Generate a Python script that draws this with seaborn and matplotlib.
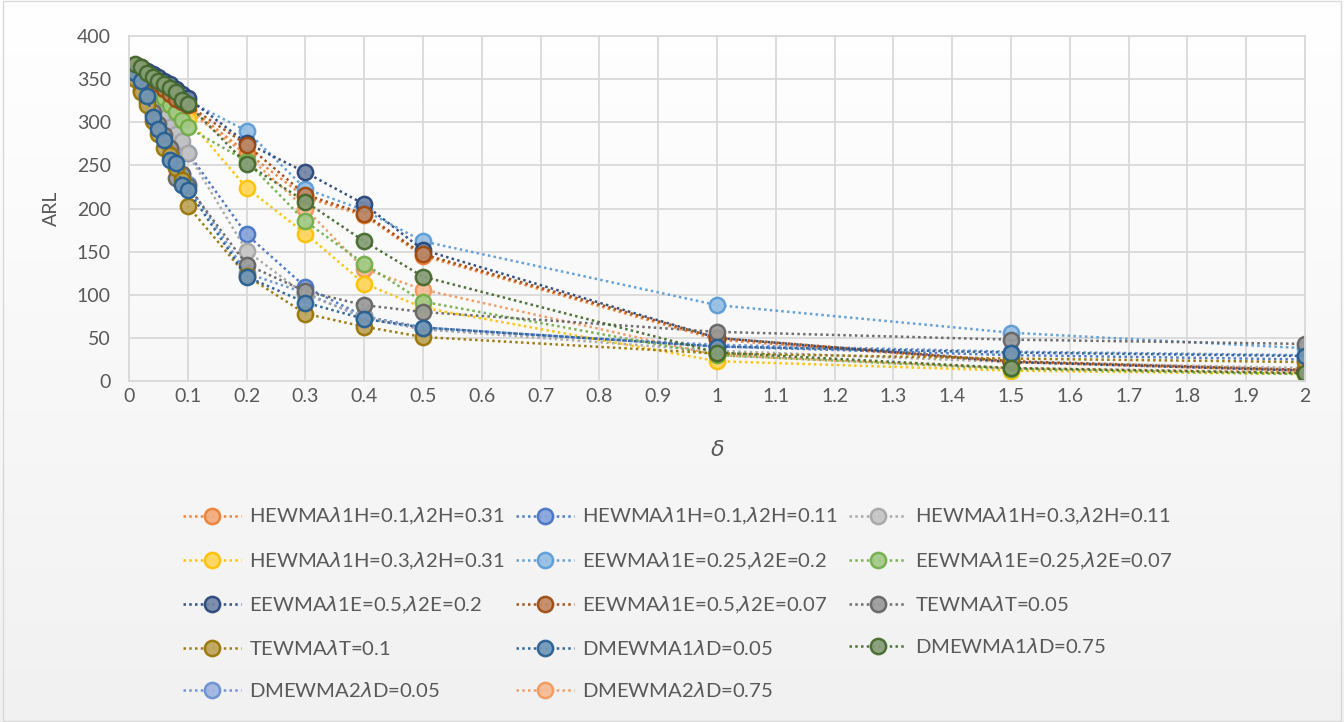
import numpy as np
import pandas as pd
import matplotlib
matplotlib.use("Agg")
import matplotlib.pyplot as plt
import matplotlib.colors as mcolors
import seaborn as sns

# Shift sizes (delta)
delta = [0.01, 0.02, 0.03, 0.04, 0.05, 0.06, 0.07, 0.08, 0.09, 0.1,
         0.2, 0.3, 0.4, 0.5, 1.0, 1.5, 2.0]

# ARL values per chart / smoothing configuration
hewma_01_031 = [366, 362, 357, 352, 346, 341, 336, 331, 325, 318, 265, 213, 192, 145, 48, 22, 12]
hewma_01_011 = [358, 350, 338, 325, 313, 300, 290, 280, 272, 265, 170, 109, 75, 62, 40, 30, 25]
hewma_03_011 = [360, 350, 338, 327, 316, 305, 295, 287, 278, 264, 151, 100, 75, 60, 35, 22, 15]
hewma_03_031 = [365, 358, 351, 343, 336, 329, 322, 316, 310, 304, 224, 171, 113, 85, 23, 12, 8]
eewma_025_02 = [367, 363, 358, 354, 350, 345, 341, 336, 330, 325, 290, 223, 198, 162, 88, 56, 38]
eewma_025_007 = [365, 358, 350, 343, 336, 328, 320, 312, 303, 294, 255, 185, 136, 92, 30, 14, 8]
eewma_05_02 = [367, 364, 360, 356, 352, 348, 344, 339, 333, 328, 276, 242, 205, 152, 50, 22, 12]
eewma_05_007 = [366, 361, 356, 350, 345, 339, 333, 327, 323, 320, 274, 216, 194, 147, 50, 23, 13]
tewma_005 = [352, 338, 325, 312, 298, 285, 270, 235, 240, 226, 135, 104, 88, 80, 57, 48, 43]
tewma_01 = [350, 335, 320, 302, 287, 270, 262, 247, 233, 203, 122, 78, 63, 51, 32, 26, 22]
dmewma1_005 = [357, 348, 331, 306, 292, 280, 256, 253, 227, 222, 121, 91, 72, 62, 40, 33, 29]
dmewma1_075 = [368, 364, 357, 353, 348, 344, 340, 335, 326, 321, 252, 208, 162, 121, 33, 15, 9]
dmewma2_005 = [355, 344, 328, 310, 296, 283, 268, 258, 240, 228, 125, 102, 73, 60, 42, 34, 30]
dmewma2_075 = [367, 362, 356, 350, 344, 338, 332, 326, 320, 314, 262, 200, 130, 106, 30, 15, 10]

series_names = [
    r"HEWMA$\lambda$1H=0.1,$\lambda$2H=0.31",
    r"HEWMA$\lambda$1H=0.1,$\lambda$2H=0.11",
    r"HEWMA$\lambda$1H=0.3,$\lambda$2H=0.11",
    r"HEWMA$\lambda$1H=0.3,$\lambda$2H=0.31",
    r"EEWMA$\lambda$1E=0.25,$\lambda$2E=0.2",
    r"EEWMA$\lambda$1E=0.25,$\lambda$2E=0.07",
    r"EEWMA$\lambda$1E=0.5,$\lambda$2E=0.2",
    r"EEWMA$\lambda$1E=0.5,$\lambda$2E=0.07",
    r"TEWMA$\lambda$T=0.05",
    r"TEWMA$\lambda$T=0.1",
    r"DMEWMA1$\lambda$D=0.05",
    r"DMEWMA1$\lambda$D=0.75",
    r"DMEWMA2$\lambda$D=0.05",
    r"DMEWMA2$\lambda$D=0.75",
]
series_values = [hewma_01_031, hewma_01_011, hewma_03_011, hewma_03_031,
                 eewma_025_02, eewma_025_007, eewma_05_02, eewma_05_007,
                 tewma_005, tewma_01, dmewma1_005, dmewma1_075,
                 dmewma2_005, dmewma2_075]
series_colors = ["#ED7D31", "#4472C4", "#A5A5A5", "#FFC000", "#5B9BD5", "#70AD47",
                 "#264478", "#9E480E", "#636363", "#997300", "#255E91", "#43682B",
                 "#698ED0", "#F1975A"]

x_ticks = [round(0.1 * i, 1) for i in range(21)]
y_ticks = [0, 50, 100, 150, 200, 250, 300, 350, 400]

sns.set_theme(style="white")
plt.rcParams["font.family"] = ["Lato", "DejaVu Sans"]
TEXT = "#595959"

fig = plt.figure(figsize=(13.44, 7.22), dpi=100)

# soft vertical gradient behind the whole chart
bg = fig.add_axes([0, 0, 1, 1], zorder=-10)
grad = np.linspace(1.0, 0.0, 256).reshape(-1, 1)
bg.imshow(grad, aspect="auto", cmap=mcolors.LinearSegmentedColormap.from_list(
    "bg", ["#f1f1f1", "#ffffff"]), extent=[0, 1, 0, 1], vmin=0, vmax=1)
bg.set_axis_off()
fig.patches.append(plt.Rectangle((0.002, 0.002), 0.996, 0.996, transform=fig.transFigure,
                                 fill=False, edgecolor="#d9d9d9", linewidth=1.0))

ax = fig.add_axes([0.096, 0.4723, 0.875, 0.4777])
ax.set_facecolor("none")

def lighten(c, amt):
    r, g, b = mcolors.to_rgb(c)
    return (r + (1 - r) * amt, g + (1 - g) * amt, b + (1 - b) * amt)

for i, (name, vals, col) in enumerate(zip(series_names, series_values, series_colors)):
    df = pd.DataFrame({"delta": delta, "ARL": vals})
    sns.lineplot(data=df, x="delta", y="ARL", ax=ax, color=col, label=name,
                 linestyle=(0, (1, 1.3)), linewidth=1.8, marker="o", markersize=11)
    line = ax.lines[-1]
    line.set_markerfacecolor(lighten(col, 0.35))
    line.set_markeredgecolor(col)
    line.set_markeredgewidth(1.8)
    line.set_alpha(0.92)
    # the two DMEWMA2 series sit underneath the rest
    line.set_zorder(1.9 if name.startswith("DMEWMA2") else 2.0 + 0.01 * i)

ax.set_xlim(0, 2)
ax.set_ylim(0, 400)
ax.set_xticks(x_ticks)
ax.set_xticklabels([("%g" % t) for t in x_ticks])
ax.set_yticks(y_ticks)
ax.grid(True, color="#d9d9d9", linewidth=1.3)
ax.set_axisbelow(True)
for s in ax.spines.values():
    s.set_color("#d9d9d9")
    s.set_linewidth(1.3)
ax.tick_params(axis="both", labelsize=14, colors=TEXT, length=0)
ax.tick_params(axis="y", pad=13)
ax.tick_params(axis="x", pad=5)
ax.set_xlabel(r"$\delta$", fontsize=16, color=TEXT)
ax.set_ylabel("ARL", fontsize=14, color=TEXT)
ax.xaxis.set_label_coords(0.5, -0.17)
ax.yaxis.set_label_coords(-0.0587, 0.5)

# legend laid out row by row in three columns
handles, labels = ax.get_legend_handles_labels()
order = [0, 3, 6, 9, 12, 1, 4, 7, 10, 13, 2, 5, 8, 11]
if ax.legend_:
    ax.legend_.remove()
leg = fig.legend([handles[i] for i in order], [labels[i] for i in order],
                 loc="upper left", bbox_to_anchor=(0.136, 0.299), ncol=3,
                 frameon=False, fontsize=14.6, handlelength=2.85, handletextpad=0.4,
                 columnspacing=0.55, labelspacing=1.14, borderaxespad=0, borderpad=0)
for t in leg.get_texts():
    t.set_color(TEXT)

fig.savefig("out.png", dpi=100)
